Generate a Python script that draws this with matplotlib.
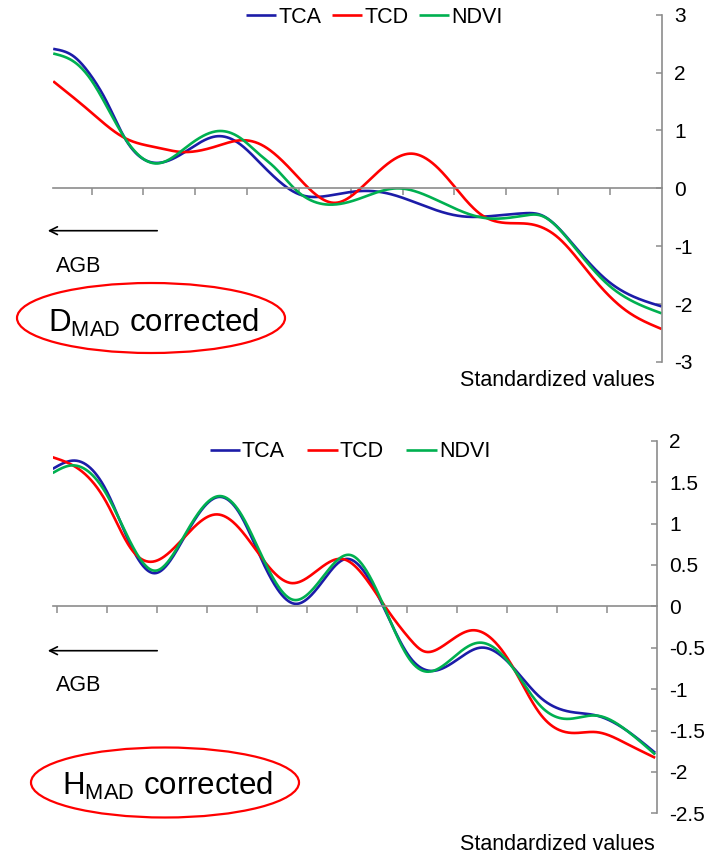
import numpy as np
import matplotlib.pyplot as plt
from matplotlib.patches import Ellipse, FancyArrowPatch

plt.rcParams['font.family'] = ['Liberation Sans', 'DejaVu Sans']
plt.rcParams['mathtext.default'] = 'regular'
plt.rcParams['axes.unicode_minus'] = False

# values (x in tick units, y standardized)
d_tca_x = [-0.74, -0.36, -0.03, 0.29, 0.64, 1.29, 1.84, 2.42, 2.87, 3.26, 3.51, 3.97, 4.16, 4.55, 5.13,
           5.45, 5.77, 6.41, 7.12, 7.70, 8.35, 8.67, 9.32, 9.96, 10.48, 11.0]
d_tca_y = [2.41, 2.29, 1.97, 1.50, 0.87, 0.44, 0.65, 0.90, 0.76, 0.43, 0.21, -0.09, -0.14, -0.13, -0.05,
           -0.05, -0.10, -0.30, -0.48, -0.48, -0.43, -0.46, -1.00, -1.60, -1.88, -2.04]
d_tcd_x = [-0.74, -0.03, 0.64, 1.29, 1.71, 2.42, 2.87, 3.26, 3.84, 4.71, 5.19, 6.16, 6.74, 7.03, 7.51,
           8.03, 8.48, 9.0, 9.64, 10.28, 11.0]
d_tcd_y = [1.85, 1.33, 0.87, 0.70, 0.63, 0.73, 0.83, 0.76, 0.33, -0.25, 0.0, 0.60, 0.30, 0.0, -0.45,
           -0.60, -0.62, -0.85, -1.51, -2.09, -2.43]
d_ndvi_x = [-0.74, -0.36, -0.03, 0.29, 0.64, 1.26, 1.84, 2.45, 2.87, 3.26, 3.51, 3.97, 4.55, 5.13, 5.90,
            6.48, 7.12, 7.57, 8.35, 8.67, 9.32, 9.96, 10.48, 11.0]
d_ndvi_y = [2.33, 2.20, 1.90, 1.42, 0.87, 0.43, 0.72, 0.99, 0.87, 0.57, 0.38, -0.05, -0.28, -0.19, 0.0,
            -0.13, -0.39, -0.51, -0.47, -0.47, -1.02, -1.66, -1.97, -2.16]

h_tca_x = [-0.08, 0.33, 1.0, 1.47, 1.97, 2.53, 3.23, 3.67, 4.07, 4.77, 5.33, 5.77, 6.53, 7.07, 7.53,
           8.07, 8.47, 9.07, 9.67, 10.33, 10.8, 11.4, 11.97]
h_tca_y = [1.66, 1.76, 1.39, 0.75, 0.40, 0.81, 1.32, 1.11, 0.60, 0.03, 0.31, 0.57, 0.0, -0.62, -0.78,
           -0.62, -0.50, -0.70, -1.10, -1.28, -1.32, -1.50, -1.77]
h_tcd_x = [-0.08, 0.33, 1.0, 1.47, 1.93, 2.53, 3.20, 3.67, 4.07, 4.70, 5.73, 6.53, 7.07, 7.33, 7.67,
           8.30, 9.07, 9.67, 10.33, 10.8, 11.4, 11.97]
h_tcd_y = [1.80, 1.70, 1.25, 0.71, 0.54, 0.82, 1.11, 0.93, 0.61, 0.28, 0.57, 0.03, -0.40, -0.54, -0.50,
           -0.29, -0.68, -1.30, -1.53, -1.52, -1.66, -1.83]
h_ndvi_x = [-0.08, 0.27, 1.0, 1.47, 1.97, 2.53, 3.23, 3.67, 4.07, 4.72, 5.33, 5.87, 6.53, 7.07, 7.43,
            8.07, 8.43, 9.07, 9.67, 10.2, 10.8, 11.4, 11.97]
h_ndvi_y = [1.61, 1.70, 1.35, 0.78, 0.43, 0.83, 1.33, 1.13, 0.65, 0.08, 0.36, 0.62, 0.02, -0.65, -0.79,
            -0.55, -0.44, -0.70, -1.20, -1.36, -1.32, -1.50, -1.79]

labels = ['TCA', 'TCD', 'NDVI']
colors = ['#1c1ca8', '#ff0000', '#00b050']


def smooth(x, y, n=800):
    # natural cubic spline through the read points
    x = np.asarray(x, float)
    y = np.asarray(y, float)
    N = len(x)
    h = np.diff(x)
    A = np.zeros((N, N))
    r = np.zeros(N)
    A[0, 0] = A[-1, -1] = 1
    for k in range(1, N - 1):
        A[k, k - 1] = h[k - 1]
        A[k, k] = 2 * (h[k - 1] + h[k])
        A[k, k + 1] = h[k]
        r[k] = 6 * ((y[k + 1] - y[k]) / h[k] - (y[k] - y[k - 1]) / h[k - 1])
    M = np.linalg.solve(A, r)
    xs = np.linspace(x[0], x[-1], n)
    i = np.clip(np.searchsorted(x, xs) - 1, 0, N - 2)
    hi = h[i]
    a = x[i + 1] - xs
    b = xs - x[i]
    ys = (M[i] * a**3 / (6 * hi) + M[i + 1] * b**3 / (6 * hi)
          + (y[i] / hi - M[i] * hi / 6) * a + (y[i + 1] / hi - M[i + 1] * hi / 6) * b)
    return xs, ys


def panel(ax, series, xlim, ylim, yticks, xticks, leg_anchor, colsp):
    for (x, y), lab, c in zip(series, labels, colors):
        xs, ys = smooth(x, y)
        ax.plot(xs, ys, color=c, lw=1.9, label=lab, solid_capstyle='butt')
    ax.set_xlim(*xlim)
    ax.set_ylim(*ylim)
    for s in ['top', 'left']:
        ax.spines[s].set_visible(False)
    ax.spines['bottom'].set_position(('data', 0))
    ax.spines['bottom'].set_color('#8c8c8c')
    ax.spines['right'].set_color('#8c8c8c')
    ax.spines['bottom'].set_linewidth(1.2)
    ax.spines['right'].set_linewidth(1.2)
    ax.set_xticks(xticks)
    ax.set_xticklabels([])
    ax.tick_params(axis='x', direction='out', length=5, width=1.1, color='#8c8c8c')
    ax.yaxis.tick_right()
    ax.set_yticks(yticks)
    ax.set_yticklabels([f'{v:g}' for v in yticks])
    ax.tick_params(axis='y', direction='in', length=4, width=1.1, color='#8c8c8c',
                   labelsize=15, pad=9)
    ax.legend(loc='center', bbox_to_anchor=leg_anchor, ncol=3, frameon=False, fontsize=15.5,
              handlelength=1.4, handletextpad=0.1, columnspacing=colsp, borderaxespad=0)


fig = plt.figure(figsize=(7.12, 8.57), dpi=100)
W, H = 712.0, 857.0

ax1 = fig.add_axes([52.7 / W, 1 - 362 / H, 609 / W, 347.3 / H])
panel(ax1, [(d_tca_x, d_tca_y), (d_tcd_x, d_tcd_y), (d_ndvi_x, d_ndvi_y)],
      (-0.75, 11), (-3, 3), [3, 2, 1, 0, -1, -2, -3], range(0, 11), (0.528, 0.993), 0.5)

ax2 = fig.add_axes([52.7 / W, 1 - 813.3 / H, 604 / W, 372.6 / H])
panel(ax2, [(h_tca_x, h_tca_y), (h_tcd_x, h_tcd_y), (h_ndvi_x, h_ndvi_y)],
      (-0.08, 12), (-2.5, 2), [2, 1.5, 1, 0.5, 0, -0.5, -1, -1.5, -2, -2.5], range(0, 12),
      (0.492, 0.970), 1.05)

# arrows, AGB labels, ellipses and notes
for ya, yt in [(230.7, 266.7), (650.7, 685.5)]:
    fig.patches.append(FancyArrowPatch(
        (160 / W, 1 - ya / H), (45 / W, 1 - ya / H), transform=fig.transFigure,
        arrowstyle='->', mutation_scale=14, lw=1.2, color='black'))
    fig.text(56 / W, 1 - yt / H, 'AGB', fontsize=15.5, va='center', ha='left')

for cx, cy, txt, ty in [(151, 318, r'D$_{MAD}$ corrected', 332),
                        (165, 782.5, r'H$_{MAD}$ corrected', 795)]:
    fig.patches.append(Ellipse((cx / W, 1 - cy / H), 268 / W, 70 / H, transform=fig.transFigure,
                               fill=False, edgecolor='#ff0000', lw=1.6))
    fig.text(cx / W + 3 / W, 1 - ty / H, txt, fontsize=22.5, ha='center', va='baseline')

for ys in [381, 845]:
    fig.text(655 / W, 1 - ys / H, 'Standardized values', fontsize=15.5, ha='right', va='center')

fig.savefig('out.png', dpi=100)
